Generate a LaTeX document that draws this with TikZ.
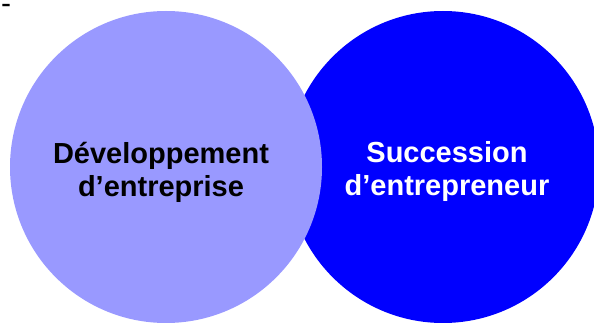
\documentclass[tikz,border=0pt]{standalone}
\usepackage{fontspec}
\setmainfont{Liberation Sans}
\definecolor{lightblob}{HTML}{9999FF}
\definecolor{darkblob}{HTML}{0000FF}
\begin{document}
\begin{tikzpicture}[x=1pt,y=-1pt,
  blob/.style={circle,minimum size=312pt,inner sep=0pt},
  lbl/.style={font=\fontsize{29}{33}\selectfont\bfseries,align=center,inner sep=0pt}]
\useasboundingbox (0,0) rectangle (594,323);
\begin{scope}
\clip (0,0) rectangle (594,323);
\node[blob,fill=darkblob] (right) at (443,167) {};
\node[blob,fill=lightblob] (left) at (166,167) {};
\end{scope}
\node[lbl,text=black] (ltxt) at (161,172) {Développement\\d’entreprise};
\node[lbl,text=white] (rtxt) at (447,172) {Succession\\d’entrepreneur};
\node[font=\fontsize{30}{32}\selectfont,anchor=base west,inner sep=0pt] (dash) at (1,13.5) {-};
\end{tikzpicture}
\end{document}
